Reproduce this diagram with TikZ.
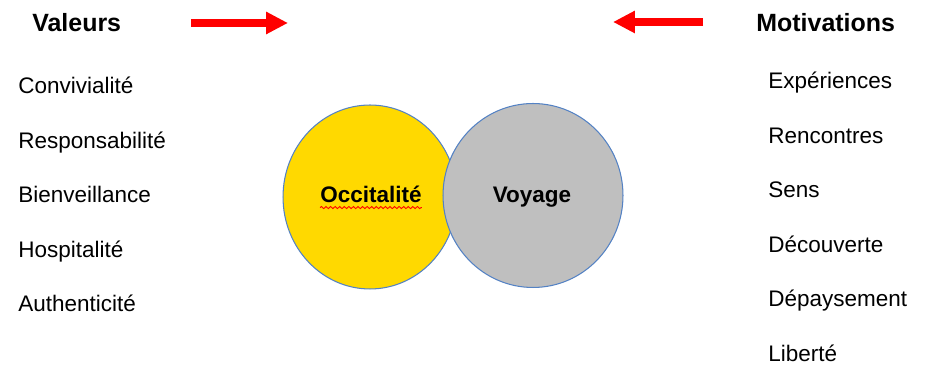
\documentclass[tikz,border=0pt]{standalone}
\usepackage{fontspec}
\setmainfont{Liberation Sans}
\usepackage{tikz}
\usetikzlibrary{arrows.meta,shapes.geometric,decorations.pathmorphing}

\definecolor{jaune}{RGB}{255,217,0}
\definecolor{gris}{RGB}{191,191,191}
\definecolor{bord}{RGB}{84,130,196}

\begin{document}
\begin{tikzpicture}[x=0.02cm,y=-0.02cm,
  titre/.style={anchor=base west,inner sep=0pt,font=\fontsize{14.2}{17}\selectfont\bfseries},
  mot/.style={anchor=base west,inner sep=0pt,font=\fontsize{12.8}{15}\selectfont},
  cercle/.style={draw=bord,line width=0.6pt,ellipse,inner sep=0pt},
  etiq/.style={anchor=base,inner sep=0pt,font=\fontsize{12.8}{15}\selectfont\bfseries},
  fleche/.style={red,line width=4pt,-{Triangle[length=12.5pt,width=12pt]}}]
\useasboundingbox (0,0) rectangle (926,367);

% titres
\node[titre] (valeurs) at(32,32) {Valeurs};
\node[titre] (motiv) at(756,32) {Motivations};

% fleches rouges
\coordinate (fd1) at(191,23);
\coordinate (fd2) at(288,23);
\coordinate (fg1) at(703,22);
\coordinate (fg2) at(613,22);
\draw[fleche] (fd1) -- (fd2);
\draw[fleche] (fg1) -- (fg2);

% valeurs
\node[mot] (v1) at(18,94) {Convivialité};
\node[mot] (v2) at(18,148.5) {Responsabilité};
\node[mot] (v3) at(18,203) {Bienveillance};
\node[mot] (v4) at(18,257.5) {Hospitalité};
\node[mot] (v5) at(18,312) {Authenticité};

% motivations
\node[mot] (m1) at(768,89) {Expériences};
\node[mot] (m2) at(768,143.5) {Rencontres};
\node[mot] (m3) at(768,198) {Sens};
\node[mot] (m4) at(768,252.5) {Découverte};
\node[mot] (m5) at(768,307) {Dépaysement};
\node[mot] (m6) at(768,361.5) {Liberté};

% cercles
\node[cercle,fill=jaune,minimum width=3.48cm,minimum height=3.68cm] (occ) at(370,197) {};
\node[cercle,fill=gris,minimum width=3.6cm,minimum height=3.68cm] (voy) at(533,195.5) {};

\node[etiq] (occt) at(371,203) {Occitalité};
\node[etiq] (voyt) at(532,203) {Voyage};

% soulignement
\draw[red,line width=0.5pt,decorate,decoration={snake,amplitude=0.6pt,segment length=2.6pt}]
  ([yshift=-2.6pt]occt.base west) -- ([yshift=-2.6pt]occt.base east);

\end{tikzpicture}
\end{document}
